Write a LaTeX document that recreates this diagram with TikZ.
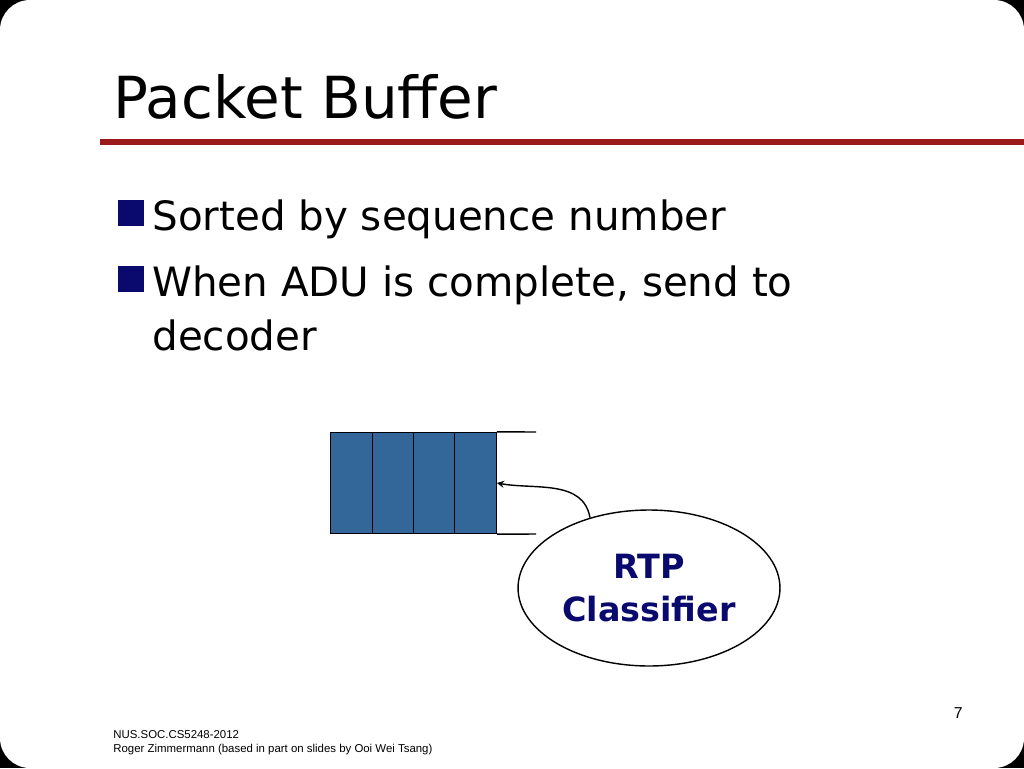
\documentclass[tikz,border=0pt]{standalone}
\usepackage{fontspec}
\setmainfont{DejaVu Sans}
\newfontfamily\footfont{Liberation Sans}
\usetikzlibrary{shapes.geometric, arrows, positioning, calc}
\definecolor{slidered}{HTML}{9C1A1A}
\definecolor{slidenavy}{HTML}{0A0A6E}
\definecolor{cellblue}{HTML}{336699}

\begin{document}
\begin{tikzpicture}[x=0.02cm, y=-0.02cm]
\tikzstyle{bullet} = [rectangle, fill=slidenavy, minimum size=0.52cm, inner sep=0pt]
\tikzstyle{body} = [anchor=base west, inner sep=0pt, font=\fontsize{23}{28}\selectfont]
\tikzstyle{cell} = [rectangle, draw=black, thick, fill=cellblue, minimum width=0.83cm, minimum height=2.02cm, inner sep=0pt]
\tikzstyle{arrow} = [-stealth, thick]

% Slide background
\fill[black] (0,0) rectangle (1024,768);
\fill[white, rounded corners=0.6cm] (0,0) rectangle (1024,768);
\useasboundingbox (0,0) rectangle (1024,768);

% Title
\node[anchor=base west, inner sep=0pt, font=\fontsize{33}{40}\selectfont] (title) at (113,118) {Packet Buffer};
\draw[slidered, line width=3pt] (100,142) -- (1024,142);

% Bullets
\node[bullet] (b1) at (131,213) {};
\node[body] (t1) at (152,230) {Sorted by sequence number};
\node[bullet] (b2) at (131,279) {};
\node[body] (t2) at (152,296) {When ADU is complete, send to};
\node[body] (t3) at (152,350) {decoder};

% Buffer
\foreach \i/\x in {1/351.5, 2/393, 3/434.5, 4/475.5}
  \node[cell] (c\i) at (\x,483) {};
\coordinate (topend) at (536,432);
\coordinate (botend) at (536,534);
\draw[thick] (c4.north east) -- (topend);
\draw[thick] (c4.south east) -- (botend);

% Classifier
\node[ellipse, draw=black, thick, minimum width=4.52cm, minimum height=3.12cm, align=center,
  text=slidenavy, font=\fontsize{19}{24}\selectfont\bfseries] (rtp) at (649,588) {RTP\\Classifier};
\draw[arrow] (rtp.130) to[out=100, in=-10] (c4.east);

% Footer
\node[anchor=base east, inner sep=0pt, font=\footfont\fontsize{9}{11}\selectfont] (page) at (963,718) {7};
\node[anchor=base west, inner sep=0pt, font=\footfont\fontsize{6.5}{8}\selectfont] (f1) at (113,738) {NUS.SOC.CS5248-2012};
\node[anchor=base west, inner sep=0pt, font=\footfont\fontsize{6.5}{8}\selectfont] (f2) at (113,752) {Roger Zimmermann (based in part on slides by Ooi Wei Tsang)};
\end{tikzpicture}
\end{document}
